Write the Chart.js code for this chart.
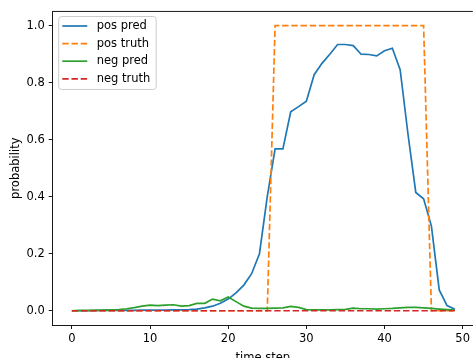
<!DOCTYPE html>
<html>
<head>
<meta charset="utf-8">
<script src="https://cdn.jsdelivr.net/npm/chart.js@4.4.1/dist/chart.umd.min.js"></script>
<style>
  html, body { margin: 0; padding: 0; overflow: hidden; background: #fff; }
  canvas { display: block; }
</style>
</head>
<body>
<canvas id="chart" width="473" height="367"></canvas>
<script>
// time steps (x) and the four series
const timeSteps = [0, 1, 2, 3, 4, 5, 6, 7, 8, 9, 10, 11, 12, 13, 14, 15, 16, 17, 18, 19,
  20, 21, 22, 23, 24, 25, 26, 27, 28, 29, 30, 31, 32, 33, 34, 35, 36, 37, 38, 39,
  40, 41, 42, 43, 44, 45, 46, 47, 48, 49];

const posPred = [0.000, 0.000, 0.000, 0.000, 0.001, 0.001, 0.001, 0.001, 0.001, 0.002,
  0.002, 0.002, 0.002, 0.003, 0.003, 0.004, 0.006, 0.010, 0.016, 0.026,
  0.041, 0.063, 0.090, 0.130, 0.200, 0.400, 0.568, 0.568, 0.698, 0.716,
  0.735, 0.828, 0.868, 0.900, 0.934, 0.934, 0.930, 0.900, 0.899, 0.894,
  0.912, 0.921, 0.846, 0.620, 0.415, 0.393, 0.297, 0.073, 0.018, 0.005];

const posTruth = [0, 0, 0, 0, 0, 0, 0, 0, 0, 0, 0, 0, 0, 0, 0, 0, 0, 0, 0, 0,
  0, 0, 0, 0, 0, 0, 1, 1, 1, 1, 1, 1, 1, 1, 1, 1, 1, 1, 1, 1,
  1, 1, 1, 1, 1, 1, 0, 0, 0, 0];

const negPred = [0.000, 0.001, 0.001, 0.002, 0.002, 0.003, 0.004, 0.007, 0.011, 0.016,
  0.020, 0.018, 0.020, 0.021, 0.016, 0.018, 0.026, 0.026, 0.041, 0.035,
  0.048, 0.032, 0.016, 0.009, 0.008, 0.008, 0.009, 0.010, 0.015, 0.012,
  0.004, 0.003, 0.003, 0.003, 0.004, 0.005, 0.009, 0.007, 0.007, 0.006,
  0.007, 0.008, 0.010, 0.012, 0.012, 0.010, 0.008, 0.006, 0.004, 0.002];

const negTruth = [0, 0, 0, 0, 0, 0, 0, 0, 0, 0, 0, 0, 0, 0, 0, 0, 0, 0, 0, 0,
  0, 0, 0, 0, 0, 0, 0, 0, 0, 0, 0, 0, 0, 0, 0, 0, 0, 0, 0, 0,
  0, 0, 0, 0, 0, 0, 0, 0, 0, 0];

const xTicks = [0, 10, 20, 30, 40, 50];
const yTicks = [0, 0.2, 0.4, 0.6, 0.8, 1.0];

const FONT = "'DejaVu Sans', sans-serif";
const DASH = [6.4, 2.8];

Chart.defaults.color = "#000";
Chart.defaults.font.family = FONT;
Chart.defaults.font.size = 11.5;

function pts(values) {
  return values.map((v, i) => ({ x: timeSteps[i], y: v }));
}

// top spine + matplotlib style legend in upper left
const framePlugin = {
  id: "frame",
  afterDraw(chart) {
    const ctx = chart.ctx;
    const a = chart.chartArea;
    ctx.save();
    ctx.strokeStyle = "#000";
    ctx.lineWidth = 0.9;
    ctx.beginPath();
    ctx.moveTo(a.left, a.top);
    ctx.lineTo(a.right, a.top);
    ctx.stroke();

    // legend box
    const bx = 58.7, by = 16.5, bw = 97.5, bh = 73;
    ctx.beginPath();
    ctx.roundRect(bx, by, bw, bh, 3);
    ctx.fillStyle = "rgba(255,255,255,0.8)";
    ctx.fill();
    ctx.strokeStyle = "#cccccc";
    ctx.lineWidth = 1;
    ctx.stroke();

    ctx.font = "11.5px " + FONT;
    ctx.textBaseline = "middle";
    ctx.textAlign = "left";
    chart.data.datasets.forEach((ds, i) => {
      const y = 26 + i * 17.6;
      ctx.beginPath();
      ctx.setLineDash(ds.borderDash || []);
      ctx.strokeStyle = ds.borderColor;
      ctx.lineWidth = ds.borderWidth;
      ctx.moveTo(62.3, y);
      ctx.lineTo(87.3, y);
      ctx.stroke();
      ctx.setLineDash([]);
      ctx.fillStyle = "#000";
      ctx.fillText(ds.label, 96.7, y);
    });
    ctx.restore();
  },
};

new Chart(document.getElementById("chart"), {
  type: "line",
  data: {
    datasets: [
      { label: "pos pred", data: pts(posPred), borderColor: "#1f77b4", borderWidth: 1.7, order: 3 },
      { label: "pos truth", data: pts(posTruth), borderColor: "#ff7f0e", borderWidth: 1.7, borderDash: DASH, order: 2 },
      { label: "neg pred", data: pts(negPred), borderColor: "#2ca02c", borderWidth: 1.7, order: 1 },
      { label: "neg truth", data: pts(negTruth), borderColor: "#d62728", borderWidth: 1.7, borderDash: DASH, order: 0 },
    ],
  },
  options: {
    responsive: false,
    animation: false,
    events: [],
    layout: { padding: { top: 11.45, right: 0, left: 0, bottom: 0 } },
    elements: {
      point: { radius: 0 },
      line: { tension: 0, fill: false },
    },
    plugins: {
      legend: { display: false },
      tooltip: { enabled: false },
    },
    scales: {
      x: {
        type: "linear",
        min: -2.45,
        max: 51.3,
        afterBuildTicks: (s) => { s.ticks = xTicks.map((v) => ({ value: v })); },
        afterFit: (s) => { s.height = 42; },
        ticks: { padding: 3, maxRotation: 0, callback: (v) => String(v) },
        grid: { display: true, drawOnChartArea: false, drawTicks: true, tickLength: 4, tickColor: "#000", tickWidth: 0.9 },
        border: { display: true, color: "#000", width: 0.9 },
        title: { display: true, text: "time step", padding: { top: 0, bottom: 2 } },
      },
      y: {
        min: -0.05,
        max: 1.05,
        afterBuildTicks: (s) => { s.ticks = yTicks.map((v) => ({ value: v })); },
        afterFit: (s) => { s.width = 52.7; },
        ticks: { padding: 4, callback: (v) => v.toFixed(1) },
        grid: { display: true, drawOnChartArea: false, drawTicks: true, tickLength: 4, tickColor: "#000", tickWidth: 0.9 },
        border: { display: true, color: "#000", width: 0.9 },
        title: { display: true, text: "probability", padding: { top: 9, bottom: 0 } },
      },
    },
  },
  plugins: [framePlugin],
});
</script>
</body>
</html>
